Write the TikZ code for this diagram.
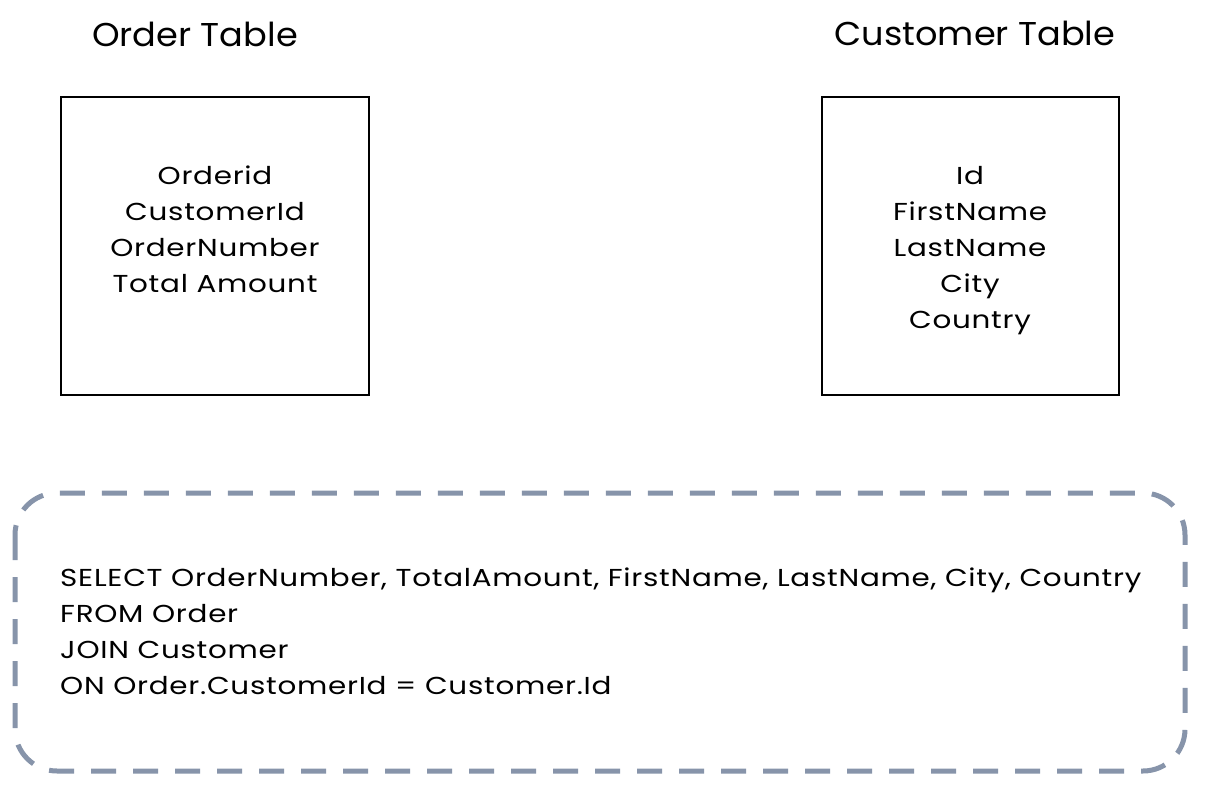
\documentclass[tikz,border=0pt]{standalone}
\usepackage{fontspec}
\setmainfont{Poppins}
\newfontfamily\bodyfont[FakeStretch=1.2,LetterSpace=3]{Poppins}
\newfontfamily\titlefont[FakeStretch=1.065]{Poppins}
\definecolor{dashblue}{HTML}{8794AA}
\begin{document}
\begin{tikzpicture}[x=1pt,y=-1pt,
  tablebox/.style={draw=black,line width=2pt},
  bodytext/.style={font=\bodyfont\fontsize{24.5}{36}\selectfont,inner sep=0pt},
  titletext/.style={font=\titlefont\fontsize{33}{40}\selectfont,inner sep=0pt,anchor=base},
  querybox/.style={draw=dashblue,line width=5pt,dash pattern=on 25pt off 17pt,rounded corners=42pt}]
\useasboundingbox (0,0) rectangle (1213,789);
\fill[white] (0,0) rectangle (1213,789);
% titles
\node[titletext] (t1) at (195,46.5) {Order Table};
\node[titletext] (t2) at (975,46) {Customer Table};
% boxes
\draw[tablebox] (61,97) rectangle (369,395);
\draw[tablebox] (822,97) rectangle (1119,395);
% order fields
\foreach \txt [count=\i] in {Orderid,CustomerId,OrderNumber,Total Amount}
  \node[bodytext,anchor=base] (o\i) at (215,{184.5+36*(\i-1)}) {\txt};
\foreach \txt [count=\i] in {Id,FirstName,LastName,City,Country}
  \node[bodytext,anchor=base] (c\i) at (970,{184.5+36*(\i-1)}) {\txt};
% query
\draw[querybox] (15,493) rectangle (1185,771);
\node[bodytext,anchor=base west] (q1) at (60,586) {SELECT OrderNumber, TotalAmount, FirstName, LastName, City, Country};
\node[bodytext,anchor=base west] (q2) at (60,622) {FROM Order};
\node[bodytext,anchor=base west] (q3) at (60,658) {JOIN Customer};
\node[bodytext,anchor=base west] (q4) at (60,694) {ON Order.CustomerId = Customer.Id};
\end{tikzpicture}
\end{document}
